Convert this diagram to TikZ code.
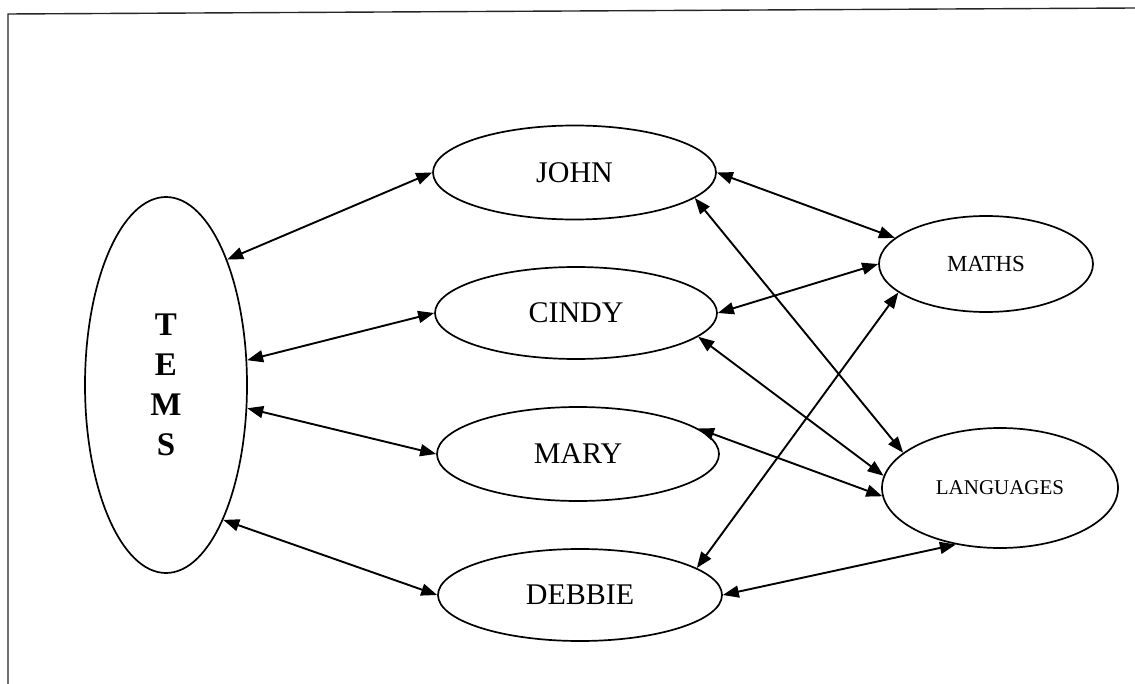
\documentclass[tikz,border=0pt]{standalone}
\usepackage{fontspec}
\setmainfont{Liberation Serif}
\usetikzlibrary{shapes.geometric,arrows.meta}
\begin{document}
\begin{tikzpicture}[x=0.5pt,y=-0.5pt,
  ell/.style={draw,ellipse,line width=0.85pt,inner sep=0pt},
  conn/.style={line width=0.95pt,{Triangle[length=8pt,width=6pt]}-{Triangle[length=8pt,width=6pt]}},
  frameline/.style={line width=0.7pt,black!85}]
\useasboundingbox (0,0) rectangle (1135,684);
\coordinate (fl) at (8,684);
\coordinate (fc) at (8,14);
\coordinate (fr) at (1135,8);
\draw[frameline] (fl) -- (fc) -- (fr);

\node[ell,minimum width=81pt,minimum height=188pt,font=\fontsize{16.5}{20}\selectfont\bfseries,align=center] (tems) at (166,385) {T\\E\\M\\S};
\node[ell,minimum width=141.5pt,minimum height=47pt,font=\fontsize{15}{18}\selectfont] (john) at (574.5,172.5) {JOHN};
\node[ell,minimum width=141pt,minimum height=46pt,font=\fontsize{15}{18}\selectfont] (cindy) at (576,313) {CINDY};
\node[ell,minimum width=141pt,minimum height=47pt,font=\fontsize{15}{18}\selectfont] (mary) at (578,454) {MARY};
\node[ell,minimum width=142pt,minimum height=46pt,font=\fontsize{15}{18}\selectfont] (debbie) at (580,595) {DEBBIE};
\node[ell,minimum width=107pt,minimum height=48pt,font=\fontsize{11.5}{14}\selectfont] (maths) at (986,264) {MATHS};
\node[ell,minimum width=118pt,minimum height=60pt,font=\fontsize{10.5}{13}\selectfont] (lang) at (1000,488) {LANGUAGES};

\draw[conn] (tems.64) -- (john.180);
\draw[conn] (tems.17) -- (cindy.180);
\draw[conn] (tems.-16) -- (mary.180);
\draw[conn] (tems.-67) -- (debbie.180);

\draw[conn] (john.0) -- (maths.164);
\draw[conn] (john.-12) -- (lang.160);
\draw[conn] (cindy.0) -- (maths.180);
\draw[conn] (cindy.-11) -- (lang.174);
\draw[conn] (mary.12) -- (lang.184);
\draw[conn] (debbie.13.5) -- (maths.-162);
\draw[conn] (debbie.0) -- (lang.-128);
\end{tikzpicture}
\end{document}
